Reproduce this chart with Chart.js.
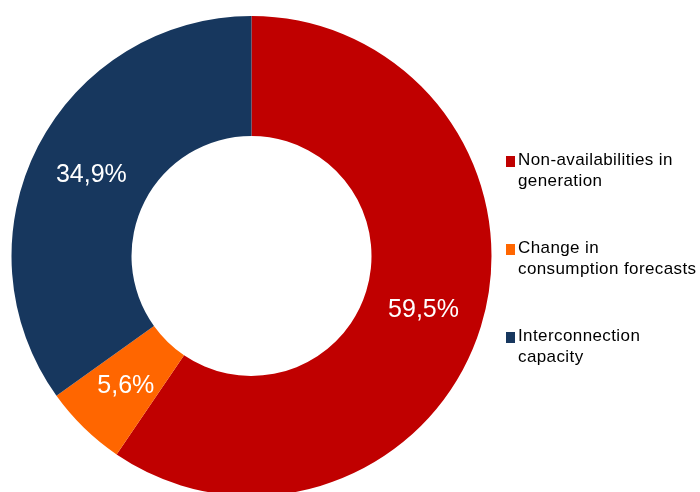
<!DOCTYPE html>
<html>
<head>
<meta charset="utf-8">
<script src="https://cdn.jsdelivr.net/npm/chart.js@4/dist/chart.umd.min.js"></script>
<style>
  html, body { margin: 0; padding: 0; background: #fff; overflow: hidden; }
  #wrap { position: relative; width: 700px; height: 500px; }
  #chart { position: absolute; left: 0; top: 0; }
  #legend { position: absolute; left: 0; top: 0; font-family: "Liberation Sans", Arial, sans-serif; }
  .item { position: absolute; left: 518px; font-size: 17px; line-height: 20.5px; letter-spacing: 0.4px; color: #000; white-space: nowrap; }
  .swatch { position: absolute; left: 506px; width: 9px; height: 11.5px; }
</style>
</head>
<body>
<div id="wrap">
  <canvas id="chart" width="700" height="500"></canvas>
  <div id="legend"></div>
</div>
<script>
// Causes of the change, share of total
const categories = [
  ['Non-availabilities in', 'generation'],
  ['Change in', 'consumption forecasts'],
  ['Interconnection', 'capacity']
];
const shares = [59.5, 5.6, 34.9];
const shareLabels = ['59,5%', '5,6%', '34,9%'];
const sliceColors = ['#C00000', '#FF6600', '#17375E'];

// Legend rows, built from the same categories and colours
const legendTops = [150, 238, 326];
const legend = document.getElementById('legend');
categories.forEach((lines, i) => {
  const sw = document.createElement('div');
  sw.className = 'swatch';
  sw.style.top = (legendTops[i] + 5.5) + 'px';
  sw.style.background = sliceColors[i];
  legend.appendChild(sw);
  const t = document.createElement('div');
  t.className = 'item';
  t.style.top = legendTops[i] + 'px';
  t.innerHTML = lines.join('<br>');
  legend.appendChild(t);
});

// White value text placed in the middle of each ring segment
const sliceText = {
  id: 'sliceText',
  afterDatasetsDraw(chart) {
    const ctx = chart.ctx;
    const meta = chart.getDatasetMeta(0);
    ctx.save();
    ctx.font = '25px "Liberation Sans", Arial, sans-serif';
    ctx.fillStyle = '#ffffff';
    ctx.textAlign = 'center';
    ctx.textBaseline = 'middle';
    meta.data.forEach((arc, i) => {
      const p = arc.tooltipPosition();
      ctx.fillText(shareLabels[i], p.x, p.y + 1);
    });
    ctx.restore();
  }
};

new Chart(document.getElementById('chart'), {
  type: 'doughnut',
  data: {
    labels: categories.map(c => c.join(' ')),
    datasets: [{
      data: shares,
      backgroundColor: sliceColors,
      borderWidth: 0
    }]
  },
  options: {
    responsive: false,
    animation: false,
    cutout: '50%',
    layout: { padding: { left: 11.5, top: 16, right: 208.5, bottom: 4 } },
    plugins: {
      legend: { display: false },
      tooltip: { enabled: false }
    }
  },
  plugins: [sliceText]
});
</script>
</body>
</html>
